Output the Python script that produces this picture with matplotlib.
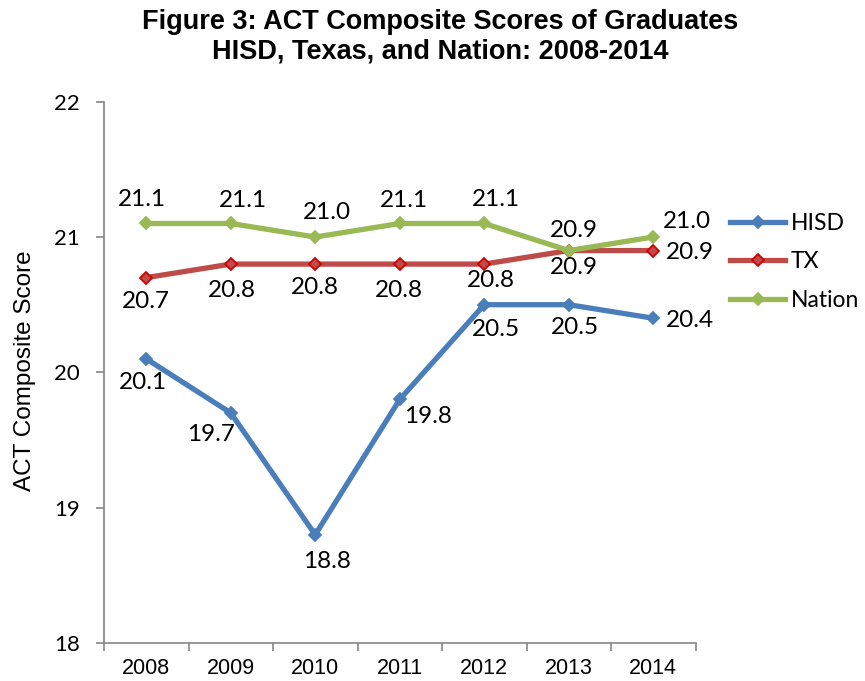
import matplotlib
matplotlib.use("Agg")
import matplotlib.pyplot as plt
from matplotlib.lines import Line2D

# chart data
years = ["2008", "2009", "2010", "2011", "2012", "2013", "2014"]
hisd = [20.1, 19.7, 18.8, 19.8, 20.5, 20.5, 20.4]
tx = [20.7, 20.8, 20.8, 20.8, 20.8, 20.9, 20.9]
nation = [21.1, 21.1, 21.0, 21.1, 21.1, 20.9, 21.0]

# label offsets in pixels (dx, dy screen-down), tuned to the reference layout
hisd_off = [(-3, 24), (-20, 22), (12, 27), (28, 17), (12, 25), (6, 23), (37, 2)]
tx_off = [(0, 24), (1, 26), (0, 23), (-1, 26), (7, 16), (5, 17), (37, 2)]
nation_off = [(-4, -24), (12, -23), (12, -25), (4, -23), (12, -24), (5, -20), (34, -16)]

LABEL_FONT = "Lato"
ARIAL = "Liberation Sans"

fig = plt.figure(figsize=(8.65, 6.81), dpi=100)
ax = fig.add_axes([104 / 865, 1 - 643 / 681, (695.5 - 104) / 865, (643 - 101.7) / 681])

x = [i + 0.5 for i in range(len(years))]
series = [
    ("HISD", hisd, hisd_off, "#4A7EBB", "#4A7EBB", "#4A7EBB"),
    ("TX", tx, tx_off, "#BE4B48", "#BE4B48", "#D00000"),
    ("Nation", nation, nation_off, "#98B954", "#98B954", "#98B954"),
]

handles = []
for name, vals, offs, col, mfc, mec in series:
    ax.plot(x, vals, color=col, lw=3.8, marker="D", ms=6.5, mfc=mfc, mec=mec,
            mew=1.3, solid_joinstyle="miter", zorder=3)
    handles.append(Line2D([], [], color=col, lw=3.8, marker="D", ms=6.5,
                          mfc=mfc, mec=mec, mew=1.3))
    for xi, v, (dx, dy) in zip(x, vals, offs):
        ax.annotate(f"{v:.1f}", (xi, v), xytext=(dx, -dy), textcoords="offset pixels",
                    ha="center", va="center", fontsize=17.5, family=LABEL_FONT, zorder=4)

ax.set_xlim(0, len(years))
ax.set_ylim(18, 22)
ax.set_yticks([18, 19, 20, 21, 22])
ax.set_yticklabels(["18", "19", "20", "21", "22"], family=LABEL_FONT, fontsize=16)
ax.set_xticks(range(len(years) + 1))
ax.set_xticklabels([])
ax.set_xticks(x, minor=True)
ax.set_xticklabels(years, minor=True, family=ARIAL, fontsize=15.5)
ax.tick_params(axis="x", which="minor", length=0, pad=11)
ax.tick_params(axis="x", which="major", length=5.5, width=1.2, color="#868686", direction="out")
ax.tick_params(axis="y", length=5.5, width=1.2, color="#868686", direction="out", pad=12)

for side in ["top", "right"]:
    ax.spines[side].set_visible(False)
for side in ["left", "bottom"]:
    ax.spines[side].set_color("#868686")
    ax.spines[side].set_linewidth(1.2)

fig.text(25 / 865, 1 - 371 / 681, "ACT Composite Score", rotation=90, ha="center", va="center",
         family=ARIAL, fontsize=17.5)

fig.text(440 / 865, 1 - 37 / 681,
         "Figure 3: ACT Composite Scores of Graduates\nHISD, Texas, and Nation: 2008-2014",
         ha="center", va="center", family=ARIAL, fontweight="bold", fontsize=19.5,
         linespacing=1.17)

fig.legend(handles, [s[0] for s in series], loc="upper left",
           bbox_to_anchor=(730 / 865, 1 - 213 / 681), frameon=False,
           prop={"family": LABEL_FONT, "size": 16.5}, handlelength=2.4, handletextpad=0.25,
           labelspacing=0.76, borderpad=0, borderaxespad=0)

fig.savefig("out.png", dpi=100)
